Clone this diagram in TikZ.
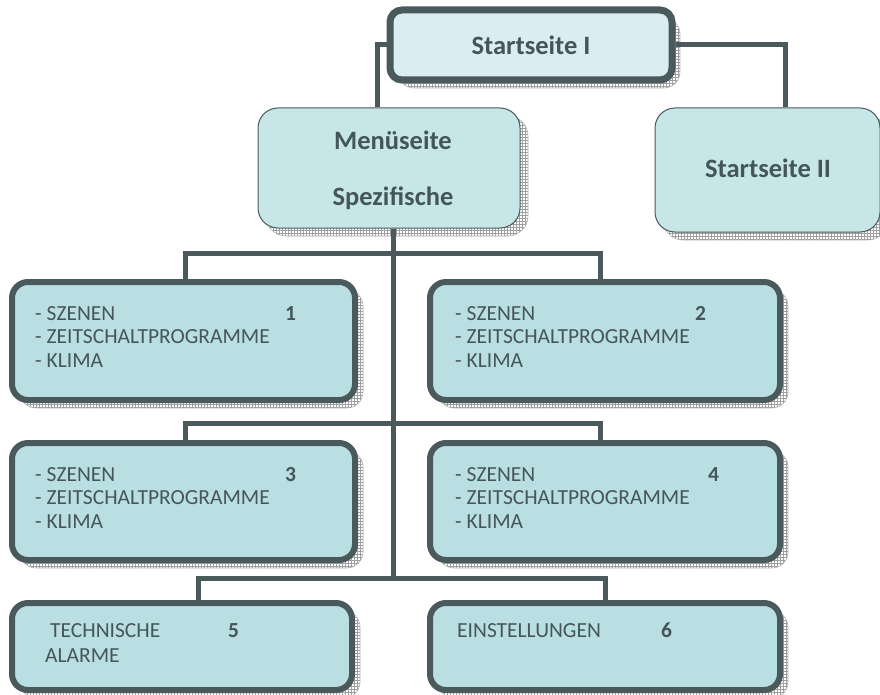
\documentclass[tikz,border=0pt]{standalone}
\usepackage{fontspec}
\setmainfont{Carlito}
\usetikzlibrary{patterns}
\definecolor{bordc}{HTML}{4A5A5C}
\definecolor{txtc}{HTML}{45565B}
\definecolor{filla}{HTML}{DAEEF1}
\definecolor{fillb}{HTML}{C6E6E8}
\definecolor{fillc}{HTML}{B9DFE2}
\tikzset{
  shadowbox/.style={fill=gray!35, pattern=grid, pattern color=gray!75, draw=gray!60, line width=0.6pt, rounded corners=16pt},
  thickbox/.style={draw=bordc, line width=6pt, fill=fillc, rounded corners=16pt},
  thinbox/.style={draw=bordc, line width=1pt, fill=fillb, rounded corners=20pt},
  topbox/.style={draw=bordc, line width=7pt, fill=filla, rounded corners=12pt},
  conn/.style={draw=bordc, line width=5pt},
  itm/.style={text=txtc, font=\fontsize{21.5}{26}\selectfont, anchor=base west, inner sep=0pt},
  num/.style={text=txtc, font=\fontsize{21.5}{26}\selectfont\bfseries, anchor=base west, inner sep=0pt},
  ttl/.style={text=txtc, font=\fontsize{26.5}{30}\selectfont\bfseries, inner sep=0pt},
}
\begin{document}
\begin{tikzpicture}[x=1pt,y=-1pt]
\useasboundingbox (0,0) rectangle (880,695);
% shadows
\fill[shadowbox] (398,18) rectangle (680,88);
\fill[shadowbox, rounded corners=20pt] (266,116) rectangle (528,236);
\fill[shadowbox, rounded corners=20pt] (663,116) rectangle (888,240);
\fill[shadowbox] (20,290) rectangle (363,408);
\fill[shadowbox] (438,290) rectangle (788,408);
\fill[shadowbox] (20,451) rectangle (363,568);
\fill[shadowbox] (438,451) rectangle (788,568);
\fill[shadowbox] (20,611) rectangle (360,698);
\fill[shadowbox] (438,611) rectangle (788,698);
% boxes
\node[topbox, minimum width=282pt, minimum height=70pt] (s1) at (531,45) {};
\node[thinbox, minimum width=262pt, minimum height=120pt] (m) at (389,168) {};
\node[thinbox, minimum width=225pt, minimum height=124pt] (s2) at (767.5,170) {};
\node[thickbox, minimum width=343pt, minimum height=118pt] (b1) at (183.5,341) {};
\node[thickbox, minimum width=350pt, minimum height=118pt] (b2) at (605,341) {};
\node[thickbox, minimum width=343pt, minimum height=117pt] (b3) at (183.5,501.5) {};
\node[thickbox, minimum width=350pt, minimum height=117pt] (b4) at (605,501.5) {};
\node[thickbox, minimum width=340pt, minimum height=87pt] (b5) at (182,646.5) {};
\node[thickbox, minimum width=350pt, minimum height=87pt] (b6) at (605,646.5) {};
% connectors
\coordinate (jl) at (377,45);
\coordinate (jr) at (785,45);
\draw[conn] (s1.west) -- (jl) -- (jl |- m.north);
\draw[conn] (s1.east) -- (jr) -- (jr |- s2.north);
\coordinate (t) at (393,578);
\draw[conn] (m.south -| t) -- (t);
\coordinate (r1l) at (185,253);
\coordinate (r1r) at (600,253);
\draw[conn] (r1l |- b1.north) -- (r1l) -- (r1r) -- (r1r |- b2.north);
\coordinate (r2l) at (185,423);
\coordinate (r2r) at (600,423);
\draw[conn] (r2l |- b3.north) -- (r2l) -- (r2r) -- (r2r |- b4.north);
\coordinate (r3l) at (198,578);
\coordinate (r3r) at (605,578);
\draw[conn] (r3l |- b5.north) -- (r3l) -- (r3r) -- (r3r |- b6.north);
% titles
\node[ttl] (ts1) at (531,45) {Startseite I};
\node[ttl] (tm1) at (393,140) {Menüseite};
\node[ttl] (tm2) at (393,198) {Spezifische};
\node[ttl] (ts2) at (768,168) {Startseite II};
% box texts
\foreach \n/\x/\y/\nx/\d in {1/35/320/285/1, 2/455/320/695/2, 3/35/481/285/3, 4/455/481/708/4}{
  \node[itm] (a\n) at (\x,\y) {- SZENEN};
  \node[itm] (z\n) at (\x,\y+23.5) {- ZEITSCHALTPROGRAMME};
  \node[itm] (k\n) at (\x,\y+47) {- KLIMA};
  \node[num] (n\n) at (\nx,\y) {\d};
}
\node[itm] (te) at (50,637) {TECHNISCHE};
\node[itm] (al) at (45,662) {ALARME};
\node[num] (n5) at (228,637) {5};
\node[itm] (ei) at (457,637) {EINSTELLUNGEN};
\node[num] (n6) at (661,637) {6};
\end{tikzpicture}
\end{document}
